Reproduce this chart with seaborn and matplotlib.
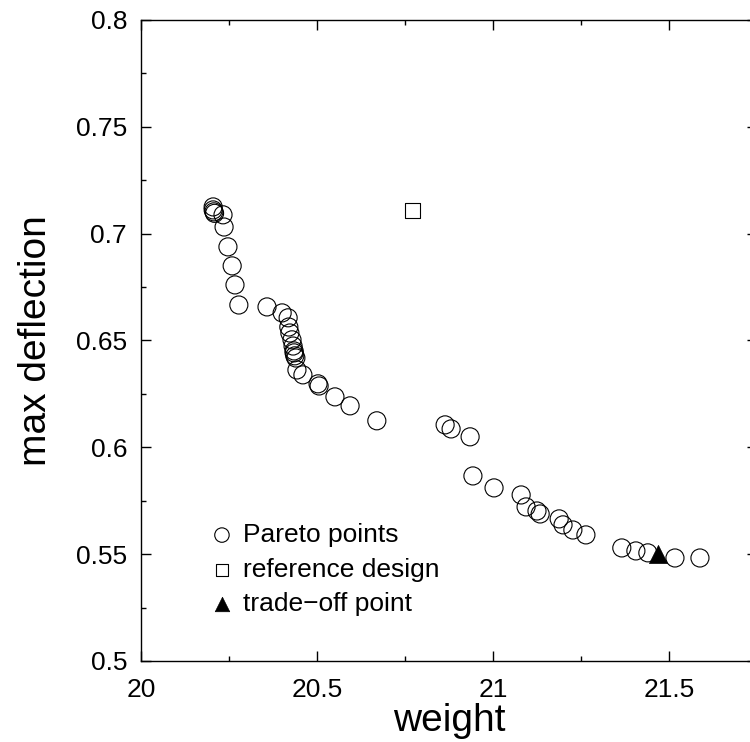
import matplotlib
matplotlib.use("Agg")
import matplotlib.pyplot as plt
import matplotlib.ticker as mticker
import seaborn as sns
import pandas as pd

# Pareto front
pareto_weight = [20.205, 20.205, 20.207, 20.209, 20.233, 20.236, 20.247, 20.259, 20.267, 20.278,
                 20.358, 20.401, 20.418, 20.420, 20.423, 20.429, 20.432, 20.435, 20.435, 20.437,
                 20.440, 20.443, 20.460, 20.503, 20.506, 20.551, 20.594, 20.670,
                 20.864, 20.881, 20.935, 20.943, 21.003, 21.080, 21.094, 21.125, 21.134,
                 21.188, 21.199, 21.227, 21.264, 21.366, 21.406, 21.440, 21.517, 21.588]
pareto_deflection = [0.7125, 0.7111, 0.7102, 0.7095, 0.7088, 0.7031, 0.6938, 0.6849, 0.6760, 0.6666,
                     0.6657, 0.6629, 0.6606, 0.6563, 0.6535, 0.6503, 0.6474, 0.6451, 0.6442, 0.6428,
                     0.6418, 0.6362, 0.6339, 0.6297, 0.6287, 0.6236, 0.6194, 0.6124,
                     0.6105, 0.6086, 0.6049, 0.5866, 0.5810, 0.5777, 0.5721, 0.5702, 0.5688,
                     0.5665, 0.5637, 0.5613, 0.5590, 0.5529, 0.5515, 0.5506, 0.5482, 0.5482]

reference_weight = [20.770]
reference_deflection = [0.711]

tradeoff_weight = [21.469]
tradeoff_deflection = [0.5501]

x_ticks = [20, 20.5, 21, 21.5]
y_ticks = [0.5, 0.55, 0.6, 0.65, 0.7, 0.75, 0.8]

pareto = pd.DataFrame({"weight": pareto_weight, "deflection": pareto_deflection})
reference = pd.DataFrame({"weight": reference_weight, "deflection": reference_deflection})
tradeoff = pd.DataFrame({"weight": tradeoff_weight, "deflection": tradeoff_deflection})

sns.set_style("ticks", {"axes.edgecolor": "black", "text.color": "black",
                        "axes.labelcolor": "black", "xtick.color": "black",
                        "ytick.color": "black"})
plt.rcParams["font.family"] = ["Liberation Sans", "DejaVu Sans"]

fig = plt.figure(figsize=(7.5, 7.42), dpi=100)
ax = fig.add_axes([0.188, 0.1092, 0.8213, 0.8639])

sns.scatterplot(data=pareto, x="weight", y="deflection", ax=ax, marker="o", s=169,
                facecolor="none", edgecolor="black", linewidth=0.8, label="Pareto points")
sns.scatterplot(data=reference, x="weight", y="deflection", ax=ax, marker="s", s=117,
                facecolor="none", edgecolor="black", linewidth=0.8, label="reference design")
sns.scatterplot(data=tradeoff, x="weight", y="deflection", ax=ax, marker="^", s=170,
                color="black", edgecolor="black", linewidth=0.5, label="trade\u2212off point")

ax.set_xlim(20, 21.75)
ax.set_ylim(0.5, 0.8)
ax.set_xticks(x_ticks)
ax.set_yticks(y_ticks)
ax.xaxis.set_minor_locator(mticker.MultipleLocator(0.25))
ax.yaxis.set_minor_locator(mticker.MultipleLocator(0.025))
fmt = mticker.FuncFormatter(lambda v, p: f"{v:g}")
ax.xaxis.set_major_formatter(fmt)
ax.yaxis.set_major_formatter(fmt)
ax.tick_params(which="both", direction="in", top=True, right=True, width=1, labelsize=19)
ax.tick_params(axis="x", pad=12)
ax.tick_params(axis="y", pad=10)
ax.tick_params(which="major", length=7)
ax.tick_params(which="minor", length=3.5)
for sp in ax.spines.values():
    sp.set_linewidth(1)
    sp.set_visible(True)

ax.set_xlabel("weight", fontsize=28, labelpad=1)
ax.set_ylabel("max deflection", fontsize=28, labelpad=16)

ax.legend(loc="lower left", bbox_to_anchor=(0.11, 0.07), frameon=False, fontsize=19,
          markerscale=0.8, handlelength=1.0, handletextpad=0.3, labelspacing=0.4,
          borderpad=0, borderaxespad=0)

fig.savefig("out.png", dpi=100)
